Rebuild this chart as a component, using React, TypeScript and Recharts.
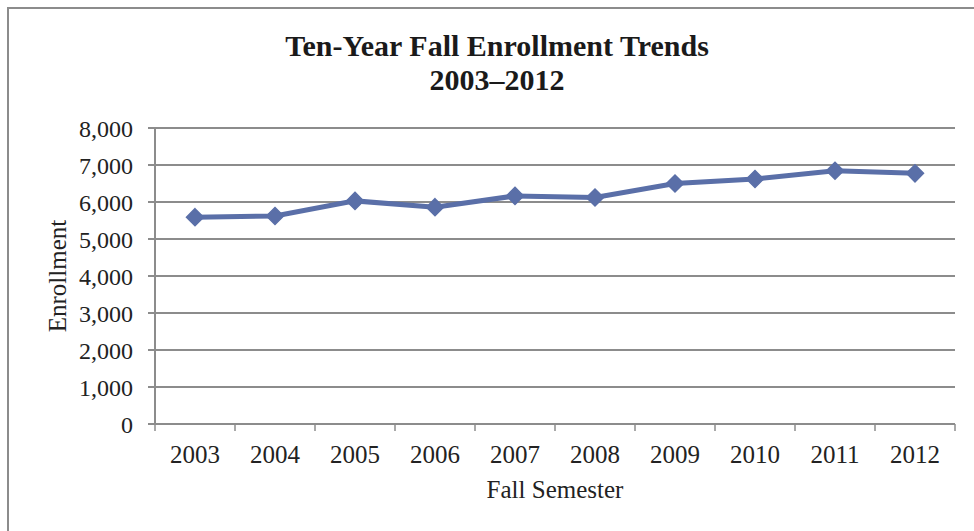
import React from 'react';
import { LineChart, Line, XAxis, YAxis, CartesianGrid } from 'recharts';

const years = [2003, 2004, 2005, 2006, 2007, 2008, 2009, 2010, 2011, 2012];
const enrollment = [5590, 5620, 6030, 5860, 6165, 6120, 6500, 6620, 6845, 6775];
const yTicks = [0, 1000, 2000, 3000, 4000, 5000, 6000, 7000, 8000];

const data = years.map((year, i) => ({ year, enrollment: enrollment[i] }));

// ticks at the category centres (labels) and at the boundaries (tick marks)
const xTicks: number[] = [];
for (let i = 0; i <= years.length; i++) {
  xTicks.push(years[0] - 0.5 + i);
  if (i < years.length) xTicks.push(years[i]);
}

const FONT = '"Liberation Serif", "Times New Roman", serif';
const GRAY = '#8c8c8c';
const BLUE = '#5a6fa8';

const XTick = (props: any) => {
  const { x, y, payload } = props;
  const v = payload.value as number;
  if (!Number.isInteger(v)) {
    return <line x1={x} x2={x} y1={y - 8} y2={y - 1} stroke={GRAY} strokeWidth={1.5} />;
  }
  return (
    <text x={x} y={y + 31} textAnchor="middle" fill="#222" fontSize={25} fontFamily={FONT}>
      {v}
    </text>
  );
};

const Diamond = (props: any) => {
  const { cx, cy } = props;
  if (cx == null || cy == null) return null;
  const r = 8.5;
  return (
    <polygon
      points={`${cx},${cy - r} ${cx + r},${cy} ${cx},${cy + r} ${cx - r},${cy}`}
      fill={BLUE}
      stroke={BLUE}
      strokeWidth={1.5}
    />
  );
};

const App: React.FC = () => {
  return (
    <div style={{ position: 'absolute', left: 0, top: 0, width: 974, height: 531, overflow: 'hidden', background: '#fff' }}>
      <div
        style={{
          position: 'absolute',
          left: 7,
          top: 7,
          width: 1000,
          height: 600,
          border: `2px solid ${GRAY}`,
        }}
      />
      <div
        style={{
          position: 'absolute',
          left: 0,
          width: 994,
          top: 29,
          textAlign: 'center',
          fontFamily: FONT,
          fontWeight: 'bold',
          fontSize: 30,
          lineHeight: '34px',
          color: '#1a1a1a',
        }}
      >
        Ten-Year Fall Enrollment Trends
        <br />
        2003–2012
      </div>
      <div style={{ position: 'absolute', left: 0, top: 0 }}>
        <LineChart
          width={974}
          height={531}
          data={data}
          margin={{ top: 128, right: 19, bottom: 47, left: 75 }}
        >
          <CartesianGrid vertical={false} stroke={GRAY} strokeWidth={2} />
          <XAxis
            dataKey="year"
            type="number"
            domain={[years[0] - 0.5, years[years.length - 1] + 0.5]}
            ticks={xTicks}
            interval={0}
            tick={<XTick />}
            tickLine={false}
            tickSize={8}
            tickMargin={0}
            axisLine={{ stroke: GRAY, strokeWidth: 2 }}
            height={60}
            label={{
              value: 'Fall Semester',
              position: 'insideBottom',
              offset: -14,
              fill: '#222',
              fontSize: 25,
              fontFamily: FONT,
            }}
          />
          <YAxis
            domain={[0, 8000]}
            ticks={yTicks}
            interval={0}
            width={80}
            tickFormatter={(v: number) => v.toLocaleString('en-US')}
            tick={{ fill: '#222', fontSize: 24, fontFamily: FONT }}
            tickLine={{ stroke: GRAY, strokeWidth: 2 }}
            tickSize={7}
            tickMargin={15}
            axisLine={{ stroke: GRAY, strokeWidth: 2 }}
            label={{
              value: 'Enrollment',
              angle: -90,
              position: 'insideLeft',
              offset: -18,
              fill: '#222',
              fontSize: 25,
              fontFamily: FONT,
              style: { textAnchor: 'middle' },
            }}
          />
          <Line
            type="linear"
            dataKey="enrollment"
            stroke={BLUE}
            strokeWidth={5}
            dot={<Diamond />}
            activeDot={false}
            isAnimationActive={false}
          />
        </LineChart>
      </div>
    </div>
  );
};

export default App;
